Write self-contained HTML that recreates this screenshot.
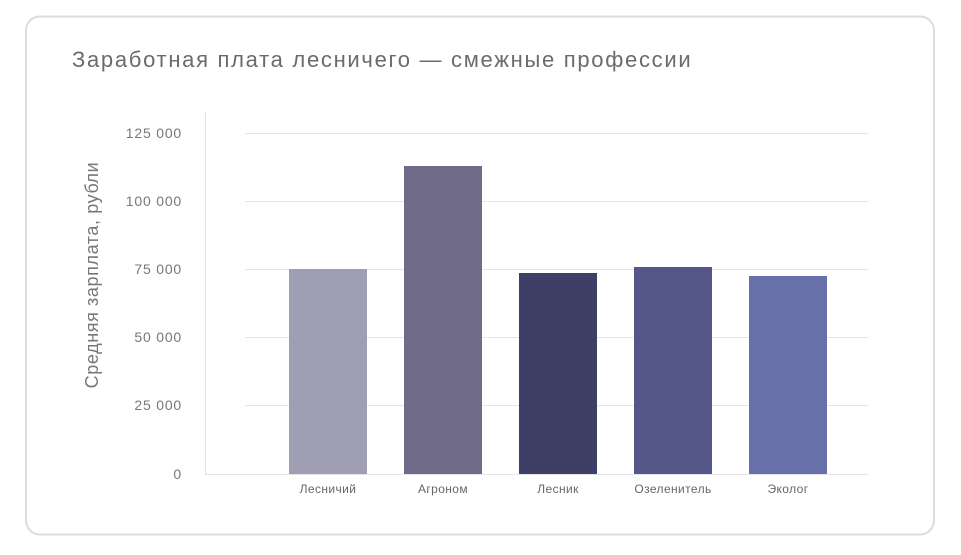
<!DOCTYPE html>
<html><head><meta charset="utf-8"><style>
body{margin:0;background:#fff;width:961px;height:550px;overflow:hidden;font-family:"Liberation Sans",sans-serif}
</style></head><body>
<svg width="961" height="550" xmlns="http://www.w3.org/2000/svg" font-family="Liberation Sans, sans-serif">
<rect x="26" y="16.5" width="908" height="518" rx="14" fill="#fff" stroke="#dcdcdc" stroke-width="2"/>
<text x="72" y="67" font-size="22" letter-spacing="1.7" fill="#6b6b6b">Заработная плата лесничего — смежные профессии</text>
<line x1="205.5" y1="113" x2="205.5" y2="474" stroke="#e2e2e8"/>
<g stroke="#e4e4ea">
<line x1="245" y1="133.5" x2="868" y2="133.5"/>
<line x1="245" y1="201.5" x2="868" y2="201.5"/>
<line x1="245" y1="269.5" x2="868" y2="269.5"/>
<line x1="245" y1="337.5" x2="868" y2="337.5"/>
<line x1="245" y1="405.5" x2="868" y2="405.5"/>
<line x1="205" y1="474.5" x2="868" y2="474.5"/>
</g>
<g font-size="14" letter-spacing="0.8" fill="#777" text-anchor="end">
<text x="182" y="138">125 000</text>
<text x="182" y="206">100 000</text>
<text x="182" y="274">75 000</text>
<text x="182" y="342">50 000</text>
<text x="182" y="410">25 000</text>
<text x="182" y="479">0</text>
</g>
<text transform="translate(98,275) rotate(-90)" font-size="18" letter-spacing="0.6" fill="#777" text-anchor="middle">Средняя зарплата, рубли</text>
<rect x="289" y="269" width="78" height="205" fill="#a09eb3"/>
<rect x="404" y="166" width="78" height="308" fill="#6f6b88"/>
<rect x="519" y="273" width="78" height="201" fill="#3e3f66"/>
<rect x="634" y="267" width="78" height="207" fill="#545788"/>
<rect x="749" y="276" width="78" height="198" fill="#6870aa"/>
<g font-size="12" letter-spacing="0.4" fill="#666" text-anchor="middle">
<text x="328" y="493">Лесничий</text>
<text x="443" y="493">Агроном</text>
<text x="558" y="493">Лесник</text>
<text x="673" y="493">Озеленитель</text>
<text x="788" y="493">Эколог</text>
</g>
</svg>
</body></html>
